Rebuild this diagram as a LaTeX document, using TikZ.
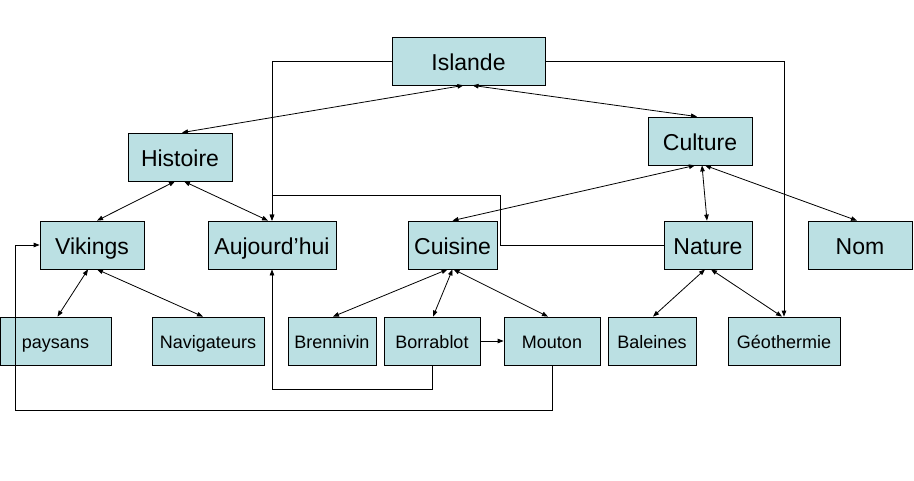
\documentclass[tikz,border=0pt]{standalone}
\usepackage{fontspec}
\setmainfont{Liberation Sans}
\usetikzlibrary{arrows.meta}
\definecolor{boxfill}{RGB}{187,224,227}
\tikzset{
  box/.style={draw=black, fill=boxfill, line width=0.8pt, inner sep=0pt, minimum height=48pt, text depth=0pt},
  big/.style={box, font=\fontsize{23}{27}\selectfont, text height=18pt},
  small/.style={box, font=\fontsize{18}{22}\selectfont, text height=14pt},
  conn/.style={line width=0.8pt},
  one/.style={conn, -{Triangle[length=6pt,width=4.5pt]}},
  two/.style={conn, {Triangle[length=6pt,width=4.5pt]}-{Triangle[length=6pt,width=4.5pt]}}
}
\begin{document}
\begin{tikzpicture}[x=1pt,y=-1pt]
\useasboundingbox[fill=white] (0,0) rectangle (914,480);
\node[big, minimum width=153pt] (Islande) at (468.5,61) {Islande};
\node[big, minimum width=104pt] (Histoire) at (180,157) {Histoire};
\node[big, minimum width=104pt] (Culture) at (700,141) {Culture};
\node[big, minimum width=104pt] (Vikings) at (92,245) {Vikings};
\node[big, minimum width=128pt] (Aujourd) at (272,245) {Aujourd’hui};
\node[big, minimum width=89pt] (Cuisine) at (452.5,245) {Cuisine};
\node[big, minimum width=88pt] (Nature) at (708,245) {Nature};
\node[big, minimum width=104pt] (Nom) at (860,245) {Nom};
\node[small, minimum width=111pt] (paysans) at (55.5,341) {paysans};
\node[small, minimum width=112pt] (Navig) at (208,341) {Navigateurs};
\node[small, minimum width=88pt] (Brennivin) at (332,341) {Brennivin};
\node[small, minimum width=96pt] (Borrablot) at (432,341) {Borrablot};
\node[small, minimum width=96pt] (Mouton) at (552,341) {Mouton};
\node[small, minimum width=88pt] (Baleines) at (652,341) {Baleines};
\node[small, minimum width=112pt] (Geo) at (784,341) {Géothermie};

\draw[two] ([xshift=-5pt]Islande.south) -- ([xshift=2pt]Histoire.north);
\draw[two] ([xshift=4pt]Islande.south) -- ([xshift=-3pt]Culture.north);
\draw[one] (Islande.west) -| (Aujourd.north);
\draw[one] (Islande.east) -| (Geo.north);
\draw[two] ([xshift=-5pt]Histoire.south) -- ([xshift=5pt]Vikings.north);
\draw[two] ([xshift=4pt]Histoire.south) -- ([xshift=-4pt]Aujourd.north);
\draw[two] ([xshift=-5pt]Culture.south) -- (Cuisine.north);
\draw[two] ([xshift=2pt]Culture.south) -- ([xshift=-1pt]Nature.north);
\draw[two] ([xshift=5pt]Culture.south) -- ([xshift=-3pt]Nom.north);
\draw[one] (Nature.west) -| (500,195) -| (Aujourd.north);
\draw[two] ([xshift=-4pt]Vikings.south) -- ([xshift=2pt]paysans.north);
\draw[two] ([xshift=5pt]Vikings.south) -- ([xshift=-5pt]Navig.north);
\draw[two] ([xshift=-5pt]Cuisine.south) -- ([xshift=1pt]Brennivin.north);
\draw[two] (Cuisine.south) -- ([xshift=1pt]Borrablot.north);
\draw[two] ([xshift=1pt]Cuisine.south) -- ([xshift=-4pt]Mouton.north);
\draw[two] ([xshift=-3pt]Nature.south) -- ([xshift=1pt]Baleines.north);
\draw[two] ([xshift=3pt]Nature.south) -- ([xshift=-2pt]Geo.north);
\draw[one] (Borrablot.east) -- (Mouton.west);
\draw[one] (Borrablot.south) -- ++(0,24) -| (Aujourd.south);
\draw[one] (Mouton.south) -- (552,410) -| (15,245) -- (Vikings.west);
\end{tikzpicture}
\end{document}
